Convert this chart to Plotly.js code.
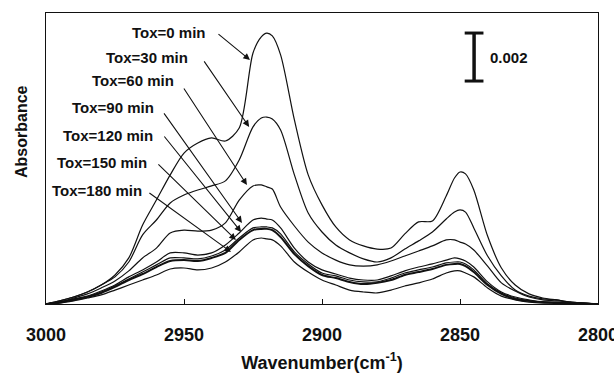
<!DOCTYPE html>
<html>
<head>
<meta charset="utf-8">
<script src="https://cdn.plot.ly/plotly-3.0.1.min.js"></script>
<style>html,body{margin:0;padding:0;background:#fff;}#chart{width:614px;height:373px;}</style>
</head>
<body>
<div id="chart"></div>
<script>
// Wavenumber grid (cm^-1)
const wavenumber = [3000,2995,2990,2985,2980,2975,2970,2965,2960,2955,2950,2945,2940,2935,2930,2925,2922,2920,2918,2915,2910,2905,2900,2895,2890,2885,2880,2875,2870,2865,2860,2855,2852,2850,2848,2845,2840,2835,2830,2825,2820,2815,2810,2805,2800];

// Absorbance series
const tox0   = [0,0.00013,0.00029,0.00050,0.00079,0.00121,0.00192,0.00329,0.00433,0.00538,0.00629,0.00671,0.00692,0.00679,0.00733,0.01046,0.01113,0.01129,0.01117,0.01038,0.00767,0.00538,0.00413,0.00321,0.00267,0.00242,0.00229,0.00233,0.00292,0.00342,0.00346,0.00450,0.00525,0.00550,0.00542,0.00475,0.00283,0.00150,0.00079,0.00042,0.00025,0.00017,0.00008,0.00004,0];
const tox30  = [0,0.00013,0.00029,0.00050,0.00079,0.00113,0.00175,0.00288,0.00350,0.00421,0.00454,0.00475,0.00492,0.00513,0.00600,0.00738,0.00775,0.00779,0.00771,0.00725,0.00538,0.00379,0.00300,0.00246,0.00213,0.00188,0.00175,0.00192,0.00229,0.00263,0.00300,0.00354,0.00383,0.00392,0.00383,0.00317,0.00200,0.00117,0.00058,0.00033,0.00021,0.00017,0.00008,0.00004,0];
const tox60  = [0,0.00008,0.00025,0.00042,0.00067,0.00096,0.00138,0.00192,0.00233,0.00296,0.00308,0.00304,0.00308,0.00338,0.00433,0.00492,0.00496,0.00488,0.00479,0.00404,0.00325,0.00258,0.00213,0.00183,0.00163,0.00158,0.00163,0.00179,0.00200,0.00221,0.00242,0.00267,0.00267,0.00258,0.00250,0.00225,0.00158,0.00088,0.00054,0.00029,0.00017,0.00013,0.00008,0.00004,0];
const tox90  = [0,0.00008,0.00021,0.00033,0.00054,0.00079,0.00113,0.00142,0.00175,0.00213,0.00213,0.00204,0.00213,0.00246,0.00296,0.00350,0.00358,0.00354,0.00350,0.00317,0.00233,0.00175,0.00142,0.00125,0.00108,0.00100,0.00100,0.00117,0.00138,0.00154,0.00167,0.00183,0.00192,0.00188,0.00179,0.00154,0.00092,0.00050,0.00029,0.00017,0.00008,0.00008,0.00004,0.00004,0];
const tox120 = [0,0.00008,0.00019,0.00031,0.00050,0.00075,0.00104,0.00133,0.00163,0.00192,0.00192,0.00188,0.00200,0.00225,0.00275,0.00317,0.00321,0.00321,0.00317,0.00292,0.00217,0.00167,0.00129,0.00117,0.00100,0.00092,0.00092,0.00108,0.00129,0.00142,0.00154,0.00171,0.00175,0.00175,0.00167,0.00142,0.00083,0.00046,0.00025,0.00013,0.00008,0.00004,0.00004,0,0];
const tox150 = [0,0.00006,0.00017,0.00029,0.00046,0.00071,0.00100,0.00125,0.00154,0.00179,0.00183,0.00179,0.00192,0.00213,0.00267,0.00308,0.00313,0.00313,0.00308,0.00279,0.00208,0.00158,0.00121,0.00108,0.00092,0.00083,0.00088,0.00100,0.00121,0.00133,0.00146,0.00163,0.00167,0.00167,0.00158,0.00133,0.00079,0.00042,0.00021,0.00013,0.00008,0.00004,0.00004,0,0];
const tox180 = [0,0.00004,0.00013,0.00025,0.00038,0.00058,0.00079,0.00100,0.00121,0.00146,0.00150,0.00142,0.00150,0.00175,0.00217,0.00267,0.00275,0.00271,0.00267,0.00242,0.00175,0.00133,0.00100,0.00079,0.00058,0.00050,0.00046,0.00058,0.00075,0.00088,0.00104,0.00129,0.00138,0.00138,0.00129,0.00113,0.00067,0.00033,0.00017,0.00008,0.00004,0.00004,0,0,0];

const seriesNames = ["Tox=0 min","Tox=30 min","Tox=60 min","Tox=90 min","Tox=120 min","Tox=150 min","Tox=180 min"];
const seriesData = [tox0, tox30, tox60, tox90, tox120, tox150, tox180];
const tickValues = [3000, 2950, 2900, 2850, 2800];
const scaleBarLabel = "0.002";

const FONT = "Liberation Sans, Arial, sans-serif";
const INK = "#111";

const traces = seriesData.map((ys, i) => ({
  type: "scatter", mode: "lines", name: seriesNames[i],
  x: wavenumber, y: ys,
  line: {color: INK, width: i === 5 ? 2.0 : 1.2, shape: "spline", smoothing: 0.8},
  showlegend: false, hoverinfo: "skip"
}));

// arrow tips (data coords) and tail offsets (px)
const tips = [
  [2926.1, 0.01017, -33, -27],
  [2926.4, 0.00738, -46, -67],
  [2927.2, 0.00496, -64, -98],
  [2929.0, 0.00338, -79, -111],
  [2929.3, 0.00300, -78, -97],
  [2931.2, 0.00267, -79, -77],
  [2933.0, 0.00217, -83, -60]
];
// label centres in pixel space of the plot area (converted to paper)
const PL = 46, PW = 552, PT = 13, PH = 291;
const labelPx = [[169,33],[147,57],[133,81],[113,108],[108,135],[102,163],[97,190]];

const annotations = [];
seriesNames.forEach((name, i) => {
  const [px, py] = labelPx[i];
  annotations.push({
    xref: "paper", yref: "paper",
    x: (px - PL) / PW, y: (PT + PH - py) / PH,
    text: name, showarrow: false, xanchor: "center", yanchor: "middle",
    font: {family: FONT, size: 15, color: INK, weight: "bold"}
  });
  const t = tips[i];
  annotations.push({
    xref: "x", yref: "y", x: t[0], y: t[1], ax: t[2], ay: t[3],
    text: "", showarrow: true, arrowhead: 2, arrowsize: 1.2, arrowwidth: 1.1,
    arrowcolor: INK, standoff: 0, startstandoff: 0
  });
});
// scale bar label
annotations.push({
  xref: "x", yref: "y", x: 2840.0, y: 0.01029,
  text: scaleBarLabel, showarrow: false, xanchor: "left", yanchor: "middle",
  font: {family: FONT, size: 15, color: INK, weight: "bold"}
});
// y-axis title
annotations.push({
  xref: "paper", yref: "paper", x: (21 - PL) / PW, y: (PT + PH - 132) / PH,
  text: "Absorbance", textangle: -90, showarrow: false,
  xanchor: "center", yanchor: "middle",
  font: {family: FONT, size: 16, color: INK, weight: "bold"}
});

// scale bar: 0.002 absorbance units
const barBottom = 0.00929, barX = 2844.9, capHalf = 3.4;
const shapes = [
  {type: "line", xref: "x", yref: "y", x0: barX, x1: barX, y0: barBottom, y1: barBottom + 0.002, line: {color: INK, width: 3.5}},
  {type: "line", xref: "x", yref: "y", x0: barX + capHalf, x1: barX - capHalf, y0: barBottom, y1: barBottom, line: {color: INK, width: 3}},
  {type: "line", xref: "x", yref: "y", x0: barX + capHalf, x1: barX - capHalf, y0: barBottom + 0.002, y1: barBottom + 0.002, line: {color: INK, width: 3}}
];

const layout = {
  width: 614, height: 373,
  margin: {l: 46, r: 16, t: 13, b: 69, pad: 0},
  paper_bgcolor: "#fff", plot_bgcolor: "#fff",
  font: {family: FONT, color: INK},
  xaxis: {
    range: [3000, 2800], tickvals: tickValues,
    ticks: "inside", ticklen: 5, tickcolor: INK, tickwidth: 1,
    showline: true, linecolor: INK, linewidth: 1, mirror: true,
    showgrid: false, zeroline: false, automargin: false,
    ticklabeloverflow: "allow",
    tickfont: {family: FONT, size: 18, color: INK, weight: "bold"},
    ticklabelstandoff: 14,
    title: {text: "Wavenumber(cm<sup>-1</sup>)", standoff: 14,
            font: {family: FONT, size: 18, color: INK, weight: "bold"}}
  },
  yaxis: {
    range: [0, 0.012125], showticklabels: false, ticks: "",
    showline: true, linecolor: INK, linewidth: 1, mirror: true,
    showgrid: false, zeroline: false, automargin: false
  },
  annotations: annotations,
  shapes: shapes,
  showlegend: false
};

Plotly.newPlot("chart", traces, layout, {staticPlot: true, displayModeBar: false});
</script>
</body>
</html>
